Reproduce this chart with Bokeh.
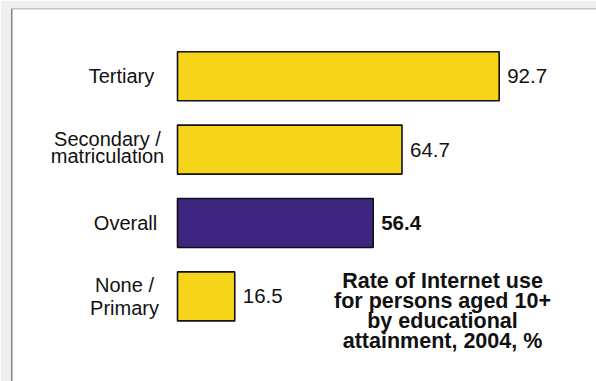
from bokeh.plotting import figure
from bokeh.models import ColumnDataSource, Range1d, Span
from bokeh.core.properties import value
from bokeh.embed import file_html
from bokeh.resources import INLINE

# ---- data ----
categories = ["Tertiary", "Secondary /\nmatriculation", "Overall", "None /\nPrimary"]
rates = [92.7, 64.7, 56.4, 16.5]
value_labels = ["92.7", "64.7", "56.4", "16.5"]
title_text = "Rate of Internet use\nfor persons aged 10+\nby educational\nattainment, 2004, %"

# ---- styles ----
bar_colors = ["#F5D41A", "#F5D41A", "#3E2680", "#F5D41A"]
value_styles = ["normal", "normal", "bold", "normal"]
label_dx = [-56, -70, -52, -53]
label_dy = [0, -2, 0, 0]
label_lh = [1.0, 0.78, 1.0, 1.05]

n = len(categories)
ypos = [n - 1 - i for i in range(n)]

src = ColumnDataSource(dict(
    y=ypos, left=[0] * n, right=rates, color=bar_colors,
    cat=categories, val=value_labels, vstyle=value_styles,
    ldx=label_dx, ldy=label_dy, llh=label_lh,
))

W, H = 596, 381
ML, MT = 11, 8
px_per_unit_x = 3.47
px_per_unit_y = 73.4
frame_w = W - ML
frame_h = H - MT
x_start = -(177 - ML) / px_per_unit_x
x_end = x_start + frame_w / px_per_unit_x
y_end = 3 + (75.7 - MT) / px_per_unit_y
y_start = y_end - frame_h / px_per_unit_y

p = figure(width=W, height=H, output_backend="svg", toolbar_location=None,
           x_range=Range1d(x_start, x_end), y_range=Range1d(y_start, y_end),
           x_axis_location=None, y_axis_location=None,
           min_border_left=ML, min_border_top=MT, min_border_right=0, min_border_bottom=0)
p.grid.visible = False
p.outline_line_color = None
p.background_fill_color = "white"
p.border_fill_color = "#EFEFEF"

p.hbar(y="y", left="left", right="right", height=0.667, source=src,
       fill_color="color", line_color="#111111", line_width=1.6)

p.text(x=0, y="y", text="cat", source=src, x_offset="ldx", y_offset="ldy",
       text_align="center", text_baseline="middle", text_line_height="llh",
       text_font=value("Liberation Sans"), text_font_size="20px", text_color="#111111")

p.text(x="right", y="y", text="val", source=src, x_offset=8,
       text_align="left", text_baseline="middle", text_font_style="vstyle",
       text_font=value("Liberation Sans"), text_font_size="20.5px", text_color="#111111")

title_x = (442 - 177) / px_per_unit_x
title_y = y_end - (310.5 - MT) / px_per_unit_y
p.text(x=[title_x], y=[title_y], text=[title_text], text_align="center",
       text_baseline="middle", text_line_height=0.84, text_font_style="bold",
       text_font=value("Liberation Sans"), text_font_size="21.5px", text_color="#111111")

p.add_layout(Span(location=x_start, dimension="height", line_color="#111111", line_width=1.5))
p.add_layout(Span(location=y_end, dimension="width", line_color="#888888", line_width=1.5))

open("out.html", "w").write(file_html(p, INLINE))
